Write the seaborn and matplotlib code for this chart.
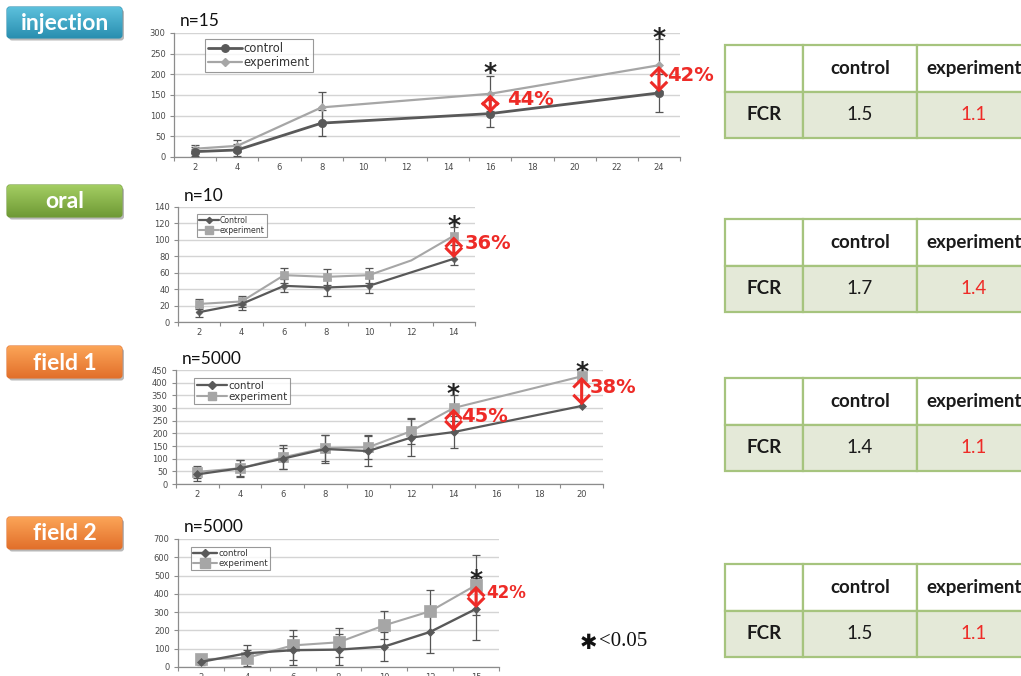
import numpy as np
import matplotlib
matplotlib.use("Agg")
import matplotlib.pyplot as plt
import seaborn as sns
from matplotlib.patches import FancyBboxPatch
from matplotlib.lines import Line2D

# ---------------- data ----------------
inj_cats = [2, 4, 6, 8, 10, 12, 14, 16, 18, 20, 22, 24]
inj_x = [2, 4, 8, 16, 24]
inj_control = [13, 17, 82, 105, 155]
inj_control_err = [10, 14, 32, 33, 47]
inj_experiment = [20, 27, 120, 153, 222]
inj_experiment_err = [10, 14, 38, 42, 63]
inj_star_x = [16, 24]
inj_star_y = [212, 298]
inj_diff_x = [16, 24]
inj_diff_text = ["44%", "42%"]

oral_cats = [2, 4, 6, 8, 10, 12, 14]
oral_control_x = [2, 4, 6, 8, 10, 14]
oral_control = [12, 22, 44, 42, 44, 77]
oral_control_err = [6, 7, 8, 10, 9, 8]
oral_experiment_x = [2, 4, 6, 8, 10, 12, 14]
oral_experiment = [22, 25, 57, 55, 57, 75, 105]
oral_experiment_err = [6, 7, 9, 10, 9, 0, 11]
oral_star_x = [14]
oral_star_y = [122]
oral_diff_x = [14]
oral_diff_text = ["36%"]

f1_cats = [2, 4, 6, 8, 10, 12, 14, 16, 18, 20]
f1_x = [2, 4, 6, 8, 10, 12, 14, 20]
f1_control = [38, 62, 100, 138, 130, 183, 205, 308]
f1_control_err = [26, 32, 42, 56, 60, 73, 63, 0]
f1_experiment = [48, 62, 105, 142, 145, 208, 300, 425]
f1_experiment_err = [24, 33, 47, 53, 47, 52, 50, 0]
f1_star_x = [14, 20]
f1_star_y = [372, 458]
f1_diff_x = [14, 20]
f1_diff_text = ["45%", "38%"]

f2_cats = [2, 4, 6, 8, 10, 12, 15]
f2_x = [2, 4, 6, 8, 10, 12, 15]
f2_control = [28, 75, 92, 95, 112, 192, 318]
f2_control_err = [18, 45, 80, 83, 77, 114, 168]
f2_experiment = [42, 50, 118, 135, 228, 305, 448]
f2_experiment_err = [10, 45, 82, 80, 77, 115, 165]
f2_star_x = [15]
f2_star_y = [500]
f2_diff_x = [15]
f2_diff_text = ["42%"]

group_names = ["injection", "oral", "field 1", "field 2"]
sample_sizes = ["n=15", "n=10", "n=5000", "n=5000"]
fcr_header = ["", "control", "experiment"]
fcr_row_label = "FCR"
fcr_control = ["1.5", "1.7", "1.4", "1.5"]
fcr_experiment = ["1.1", "1.4", "1.1", "1.1"]

# ---------------- style ----------------
sns.set_theme(style="white")
plt.rcParams["font.family"] = ["DejaVu Sans"]

W, H = 1021, 676
fig = plt.figure(figsize=(W / 100, H / 100), dpi=100)
fig.patch.set_facecolor("white")

CTRL = "#595959"
EXP = "#a6a6a6"
RED = "#ee2b27"
GRID = "#d4d4d4"
AXC = "#8c8c8c"


def rect(x0, y0, x1, y1):
    return [x0 / W, 1 - y1 / H, (x1 - x0) / W, (y1 - y0) / H]


overlay = fig.add_axes([0, 0, 1, 1], zorder=0)
overlay.set_facecolor("none")


def chart(box, cats, cx, cy, ce, ex, ey, ee, ymax, ystep, title, title_base,
          leg_xy, leg_fs, leg_labels, cmark, cms, emark, ems, clw, elw,
          star_x, star_y, diff_x, diff_text, diff_fs, diff_dx, handlelen,
          tick_fs=6.0, exp_nomark=None):
    ax = fig.add_axes(rect(*box), zorder=2)
    ax.set_facecolor("none")
    pos = {c: i for i, c in enumerate(cats)}
    cp = np.array([pos[v] for v in cx], dtype=float)
    ep = np.array([pos[v] for v in ex], dtype=float)
    cy = np.array(cy, float); ey = np.array(ey, float)
    ce = np.array(ce, float); ee = np.array(ee, float)

    ax.set_xlim(-0.5, len(cats) - 0.5)
    ax.set_ylim(0, ymax)
    ax.set_yticks(np.arange(0, ymax + 1, ystep))
    ax.yaxis.grid(True, color=GRID, lw=1.0)
    ax.xaxis.grid(False)
    ax.set_axisbelow(True)

    # error bars
    m = ce > 0
    ax.errorbar(cp[m], cy[m], yerr=ce[m], fmt="none", ecolor="#555555",
                elinewidth=0.9, capsize=2.8, capthick=0.9, zorder=3)
    m = ee > 0
    ax.errorbar(ep[m], ey[m], yerr=ee[m], fmt="none", ecolor="#555555",
                elinewidth=0.9, capsize=2.8, capthick=0.9, zorder=3)

    mev = None
    if exp_nomark is not None:
        mev = [i for i in range(len(ex)) if ex[i] not in exp_nomark]
    sns.lineplot(x=ep, y=ey, ax=ax, color=EXP, linewidth=elw, marker=emark,
                 markersize=ems, markerfacecolor=EXP, markeredgecolor=EXP,
                 markeredgewidth=0.5, markevery=mev, errorbar=None, zorder=4)
    sns.lineplot(x=cp, y=cy, ax=ax, color=CTRL, linewidth=clw, marker=cmark,
                 markersize=cms, markerfacecolor=CTRL, markeredgecolor=CTRL,
                 markeredgewidth=0.5, errorbar=None, zorder=5)

    # significance stars
    for sx, sy in zip(star_x, star_y):
        ax.annotate("*", xy=(pos[sx], sy), xytext=(0, -4),
                    textcoords="offset pixels", ha="center", va="center",
                    fontsize=18, fontweight="bold", color="#222222",
                    annotation_clip=False, family=["DejaVu Sans"])

    # difference arrows
    cmap = dict(zip(cx, cy)); emap = dict(zip(ex, ey))
    for dxv, txt, off in zip(diff_x, diff_text, diff_dx):
        lo, hi = cmap[dxv], emap[dxv]
        ax.annotate("", xy=(pos[dxv], hi), xytext=(pos[dxv], lo),
                    arrowprops=dict(arrowstyle="<->,head_length=0.5,head_width=0.5",
                                    color=RED, lw=2.2, shrinkA=0.5, shrinkB=0.5,
                                    mutation_scale=12, joinstyle="miter",
                                    capstyle="butt"), zorder=6)
        ax.annotate(txt, xy=(pos[dxv], (lo + hi) / 2), xytext=(off, 4),
                    textcoords="offset pixels", ha="left", va="center",
                    color=RED, fontsize=diff_fs, fontweight="bold",
                    annotation_clip=False, zorder=6)

    # axes styling
    for s in ["top", "right"]:
        ax.spines[s].set_visible(False)
    for s in ["left", "bottom"]:
        ax.spines[s].set_color(AXC)
        ax.spines[s].set_linewidth(0.9)
    ax.set_xticks(range(len(cats)))
    ax.set_xticklabels([str(c) for c in cats])
    ax.set_xticks(np.arange(-0.5, len(cats)), minor=True)
    ax.tick_params(axis="x", which="major", length=0, pad=4,
                   labelsize=tick_fs, labelcolor="#4a4a4a")
    ax.tick_params(axis="x", which="minor", length=3, width=0.8,
                   color=AXC, direction="out", bottom=True)
    ax.tick_params(axis="y", length=3, width=0.8, color=AXC, direction="out",
                   pad=3, labelsize=tick_fs, labelcolor="#4a4a4a", left=True)
    ax.set_xlabel(""); ax.set_ylabel("")

    # legend
    handles = [
        Line2D([], [], color=CTRL, lw=clw, marker=cmark, markersize=cms * 0.9,
               markerfacecolor=CTRL, markeredgecolor=CTRL),
        Line2D([], [], color=EXP, lw=elw, marker=emark, markersize=ems * 0.9,
               markerfacecolor=EXP, markeredgecolor=EXP),
    ]
    leg = ax.legend(handles, leg_labels, loc="upper left",
                    bbox_to_anchor=(leg_xy[0] / W, 1 - leg_xy[1] / H),
                    bbox_transform=fig.transFigure, frameon=True,
                    fancybox=False, fontsize=leg_fs, borderpad=0.25,
                    labelspacing=0.1, handlelength=handlelen,
                    handletextpad=0.1, borderaxespad=0)
    leg.get_frame().set_edgecolor("#808080")
    leg.get_frame().set_linewidth(0.8)
    for t in leg.get_texts():
        t.set_color("#333333")

    fig.text((box[0] + 6) / W, 1 - title_base / H, title, fontsize=12.5,
             family=["Lato", "DejaVu Sans"], va="baseline", ha="left",
             color="#111111")
    return ax


chart((174, 33, 680, 157), inj_cats, inj_x, inj_control, inj_control_err,
      inj_x, inj_experiment, inj_experiment_err, 300, 50, sample_sizes[0], 26,
      (205, 39), 8.3, ["control", "experiment"], "o", 6, "D", 4, 2.0, 1.6,
      inj_star_x, inj_star_y, inj_diff_x, inj_diff_text, 14, [17, 8], 3.0)

chart((178, 207, 475, 322), oral_cats, oral_control_x, oral_control,
      oral_control_err, oral_experiment_x, oral_experiment, oral_experiment_err,
      140, 20, sample_sizes[1], 201, (197, 214), 5.6, ["Control", "experiment"],
      "D", 3.5, "s", 6, 1.6, 1.5, oral_star_x, oral_star_y, oral_diff_x,
      oral_diff_text, 14, [11], 2.6, exp_nomark=[12])

chart((176, 370, 603, 484), f1_cats, f1_x, f1_control, f1_control_err,
      f1_x, f1_experiment, f1_experiment_err, 450, 50, sample_sizes[2], 364,
      (194, 378), 7.4, ["control", "experiment"], "D", 4, "s", 7, 1.6, 1.5,
      f1_star_x, f1_star_y, f1_diff_x, f1_diff_text, 14, [8, 8], 3.0)

chart((178, 539, 499, 667), f2_cats, f2_x, f2_control, f2_control_err,
      f2_x, f2_experiment, f2_experiment_err, 700, 100, sample_sizes[3], 532,
      (191, 547), 6.2, ["control", "experiment"], "D", 4.5, "s", 8, 1.7, 1.5,
      f2_star_x, f2_star_y, f2_diff_x, f2_diff_text, 12, [10], 2.8)

# ---------------- side labels ----------------
label_boxes = [(7, 7, 122, 38), (7, 185, 122, 217), (7, 346, 122, 378),
               (7, 517, 122, 549)]
label_colors = [("#5cc0dc", "#2a8fb0"), ("#a3cd62", "#6f9a35"),
                ("#fba457", "#e2702b"), ("#fba457", "#e2702b")]
overlay.set_xlim(0, W)
overlay.set_ylim(H, 0)
for name, (x0, y0, x1, y1), (ctop, cbot) in zip(group_names, label_boxes, label_colors):
    sh = FancyBboxPatch((x0 + 2, y0 + 2.5), x1 - x0, y1 - y0,
                        boxstyle="round,pad=0,rounding_size=3",
                        fc="#000000", ec="none", alpha=0.28, zorder=1)
    overlay.add_patch(sh)
    p = FancyBboxPatch((x0, y0), x1 - x0, y1 - y0,
                       boxstyle="round,pad=0,rounding_size=3",
                       fc=cbot, ec=cbot, lw=0.8, zorder=2)
    overlay.add_patch(p)
    c0 = np.array(matplotlib.colors.to_rgb(ctop))
    c1 = np.array(matplotlib.colors.to_rgb(cbot))
    tt = np.linspace(0, 1, 50)[:, None]
    grad = (c0 * (1 - tt) + c1 * tt)[:, None, :]
    im = overlay.imshow(grad, extent=(x0, x1, y1, y0), origin="upper",
                        aspect="auto", zorder=3)
    im.set_clip_path(p)
    overlay.text((x0 + x1) / 2, (y0 + y1) / 2 + 1, name, color="white",
                 fontsize=16.5, fontweight="bold", family=["Lato", "DejaVu Sans"],
                 ha="center", va="center", zorder=4)

overlay.text(580, 643, "\u2731", fontsize=15, fontweight="bold",
             family=["DejaVu Sans"], ha="left", va="center", color="#111111")
overlay.text(599, 641, "<0.05", fontsize=15,
             family=["Liberation Serif", "DejaVu Serif"], ha="left",
             va="center", color="#111111")
overlay.set_xlim(0, W)
overlay.set_ylim(H, 0)
overlay.axis("off")

# ---------------- FCR tables ----------------
table_tops = [45, 219, 378, 564]
col_w = [78, 114, 114]
for top, cval, eval_ in zip(table_tops, fcr_control, fcr_experiment):
    tax = fig.add_axes(rect(725, top, 725 + sum(col_w), top + 93), zorder=1)
    tax.axis("off")
    tbl = tax.table(cellText=[fcr_header, [fcr_row_label, cval, eval_]],
                    cellLoc="center", bbox=[0, 0, 1, 1])
    tbl.auto_set_font_size(False)
    for (r, c), cell in tbl.get_celld().items():
        cell.set_width(col_w[c])
        cell.set_height(46.5)
        cell.set_edgecolor("#a6c47e")
        cell.set_linewidth(1.6)
        cell.set_facecolor("white" if r == 0 else "#e4e9d8")
        t = cell.get_text()
        t.set_fontsize(13.5)
        t.set_family(["Lato", "DejaVu Sans"])
        if r == 0 or c == 0:
            t.set_fontweight("bold")
        t.set_color(RED if (r == 1 and c == 2) else "#1a1a1a")

fig.savefig("out.png", dpi=100)
